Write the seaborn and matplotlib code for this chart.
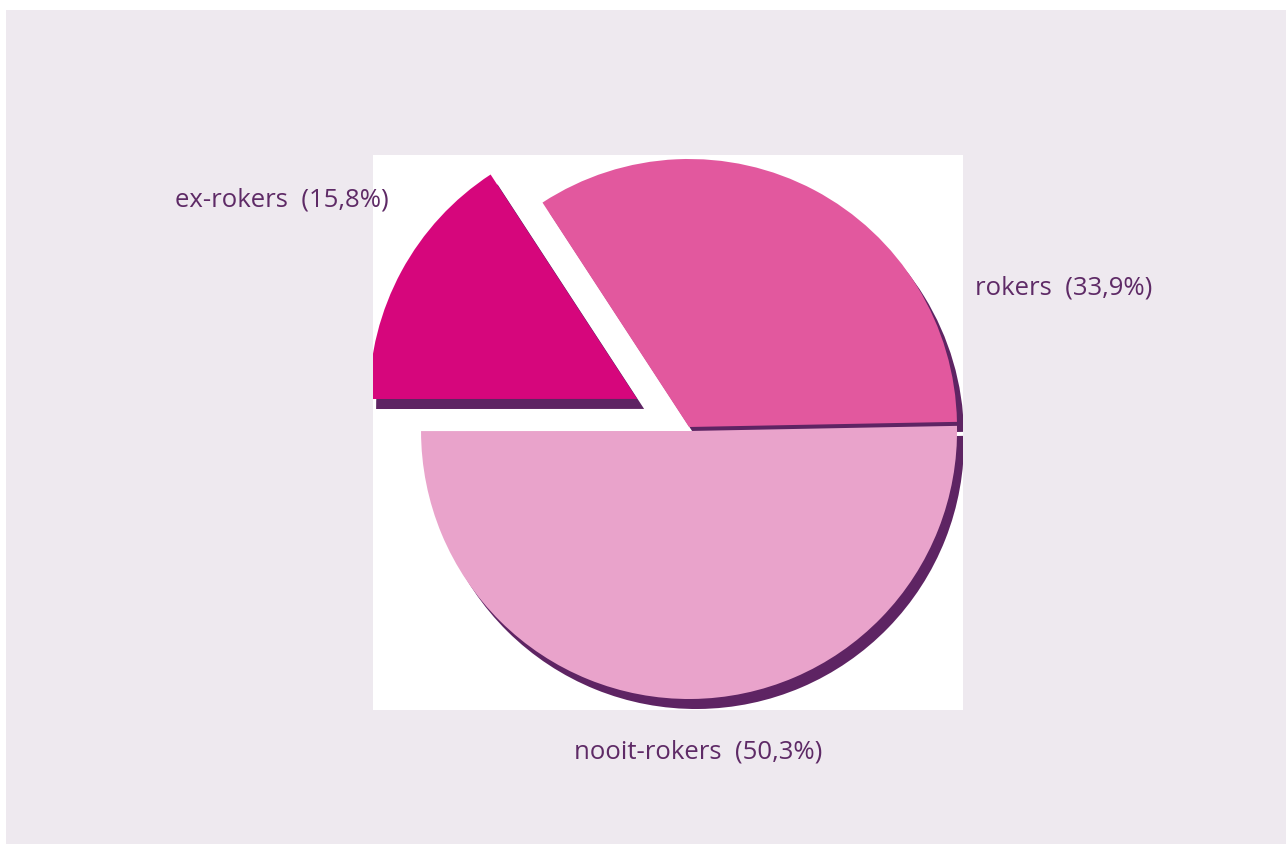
import numpy as np
import matplotlib
matplotlib.use("Agg")
import matplotlib.pyplot as plt
import seaborn as sns
from matplotlib.patches import Rectangle

# data
labels = ["rokers", "ex-rokers", "nooit-rokers"]
shares = [33.9, 15.8, 50.3]
label_texts = ["rokers  (33,9%)", "ex-rokers  (15,8%)", "nooit-rokers  (50,3%)"]

colors = ["#E2589E", "#D6067C", "#E9A3CB"]
shadow_col = "#5E2463"
text_col = "#5E2A66"
bg = "#EEE9EF"

sns.set_theme(style="white")
plt.rcParams["font.family"] = ["Open Sans", "DejaVu Sans"]

W, H = 1286, 844
fig = plt.figure(figsize=(W / 100, H / 100), dpi=100, facecolor="white")
# lavender panel (small white margin top/left like the source)
fig.patches.append(Rectangle((6 / W, 0), 1 - 6 / W, 1 - 10 / H,
                             transform=fig.transFigure, facecolor=bg,
                             edgecolor="none", zorder=-5))

# white box around the pie, pixel-scaled data units, pie center at (0,0)
x0, x1, y0, y1 = 373, 963, 155, 710
cx, cy = 689, 427
ax = fig.add_axes([x0 / W, 1 - y1 / H, (x1 - x0) / W, (y1 - y0) / H], zorder=2)
ax.set_facecolor("white")
R = 268
# explode in data units (pie does not scale it by radius)
explode = [0, 59, 4]

# shadow pie first
sh, _ = ax.pie(shares, radius=R, center=(7, -10), startangle=1.1, explode=explode,
               colors=[shadow_col] * 3, wedgeprops=dict(linewidth=0))
wd, _ = ax.pie(shares, radius=R, center=(0, 0), startangle=1.1, explode=explode,
               colors=colors, wedgeprops=dict(linewidth=0))
for w in list(sh) + list(wd):
    w.set_clip_on(True)
    w.set_clip_path(ax.patch)

ax.set_aspect("auto")
ax.set_xlim(x0 - cx, x1 - cx)
ax.set_ylim(-(y1 - cy), cy - y0)
ax.set_frame_on(True)
for s in ax.spines.values():
    s.set_visible(False)
ax.set_xticks([])
ax.set_yticks([])

# labels
fig.text(975 / W, 1 - 288 / H, label_texts[0], ha="left", va="center",
         fontsize=18.5, color=text_col, zorder=3)
fig.text(175 / W, 1 - 200 / H, label_texts[1], ha="left", va="center",
         fontsize=18.5, color=text_col, zorder=3)
fig.text(698 / W, 1 - 752 / H, label_texts[2], ha="center", va="center",
         fontsize=18.5, color=text_col, zorder=3)

fig.savefig("out.png", dpi=100, facecolor="white")
